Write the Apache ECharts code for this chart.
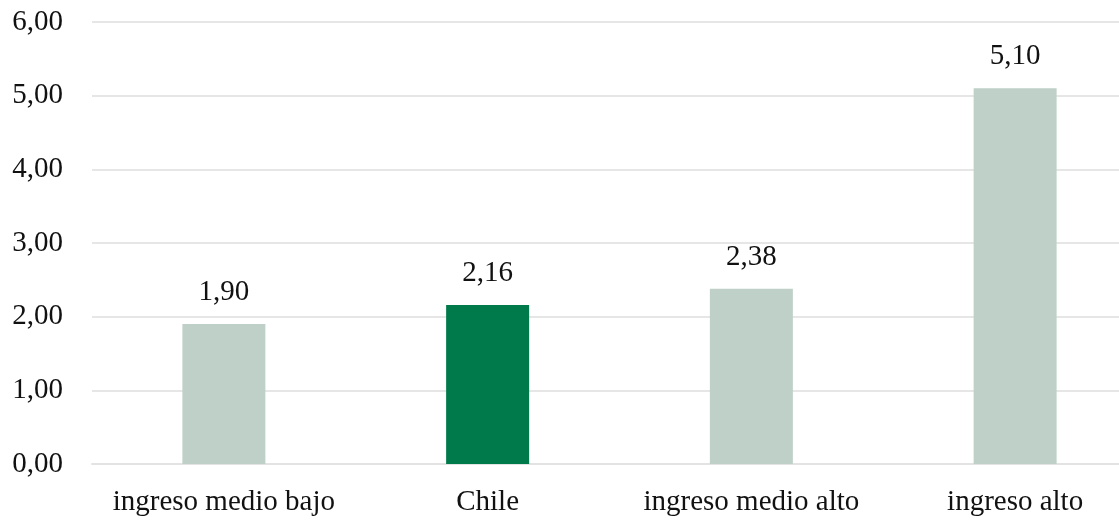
<!DOCTYPE html>
<html><head><meta charset="utf-8">
<script src="https://cdn.jsdelivr.net/npm/echarts@6/dist/echarts.min.js"></script>
<style>html,body{margin:0;padding:0;background:#fff}#c{width:1119px;height:520px}</style>
</head><body><div id="c"></div>
<script>
var categories = ['ingreso medio bajo', 'Chile', 'ingreso medio alto', 'ingreso alto'];
var values = [1.90, 2.16, 2.38, 5.10];
var highlight = 'Chile';
var yTicks = [0, 1, 2, 3, 4, 5, 6];

var chart = echarts.init(document.getElementById('c'));
var fmt = function (v) { return Number(v).toFixed(2).replace('.', ','); };
chart.setOption({
  animation: false,
  grid: { left: 92, right: -28, top: 22, bottom: 56, containLabel: false, outerBoundsMode: 'none' },
  xAxis: {
    type: 'category', data: categories,
    axisLine: { show: true, lineStyle: { color: '#e3e3e3', width: 2 } },
    axisTick: { show: false },
    axisLabel: { color: '#111', fontFamily: 'Liberation Serif', fontSize: 29, margin: 24, interval: 0 }
  },
  yAxis: {
    type: 'value', min: yTicks[0], max: yTicks[yTicks.length - 1], interval: 1,
    axisLine: { show: false }, axisTick: { show: false },
    splitLine: { lineStyle: { color: '#e6e6e6', width: 2 } },
    axisLabel: { color: '#111', fontFamily: 'Liberation Serif', fontSize: 29, margin: 29, formatter: fmt }
  },
  series: [{
    type: 'bar', barWidth: 83,
    data: values.map(function (v, i) {
      return { value: v, itemStyle: { color: categories[i] === highlight ? '#007a4b' : '#bfd0c8' } };
    }),
    label: { show: true, position: 'top', distance: 17, color: '#111', fontFamily: 'Liberation Serif', fontSize: 29,
      formatter: function (p) { return fmt(p.value); } }
  }]
});
</script></body></html>
